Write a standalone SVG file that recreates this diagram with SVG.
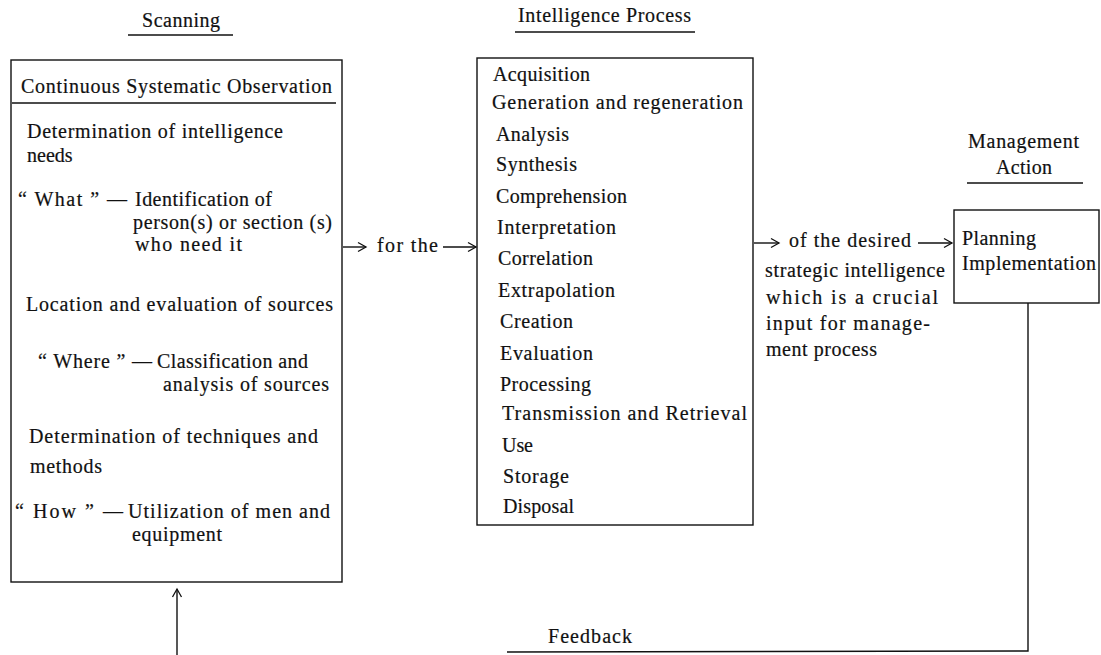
<svg xmlns="http://www.w3.org/2000/svg" width="1101" height="655" viewBox="0 0 1101 655">
<style>
text{font-family:"Liberation Serif","Times New Roman",serif;font-size:20px;fill:#111;stroke:#111;stroke-width:0.2}
.ln{stroke:#111;stroke-width:1.4;fill:none}
.box{stroke:#111;stroke-width:1.4;fill:none}
</style>
<defs>
<marker id="ah" markerUnits="userSpaceOnUse" markerWidth="12" markerHeight="12" refX="10" refY="6" orient="auto">
<path d="M2,1.5 L10,6 L2,10.5" fill="none" stroke="#111" stroke-width="1.3"/>
</marker>
</defs>
<rect width="1101" height="655" fill="#fff"/>

<g id="title-scanning">
<text x="142" y="27" textLength="78" lengthAdjust="spacing">Scanning</text>
<line class="ln" x1="128" y1="35" x2="233" y2="35"/>
</g>
<g id="title-intelligence">
<text x="518" y="22" textLength="173" lengthAdjust="spacing">Intelligence Process</text>
<line class="ln" x1="515" y1="32" x2="695" y2="32"/>
</g>
<g id="title-management">
<text x="968" y="148" textLength="111" lengthAdjust="spacing">Management</text>
<text x="996" y="174" textLength="56" lengthAdjust="spacing">Action</text>
<line class="ln" x1="967" y1="183" x2="1083" y2="183"/>
</g>

<g id="scanning-box">
<rect class="box" x="11" y="60" width="331" height="522"/>
<line class="ln" x1="12" y1="103" x2="336" y2="103"/>
<text x="21" y="93" textLength="311" lengthAdjust="spacing">Continuous Systematic Observation</text>
<text x="27" y="138" textLength="256" lengthAdjust="spacing">Determination of intelligence</text>
<text x="27" y="162">needs</text>
<text x="18" y="206" textLength="109" lengthAdjust="spacing">“ What ” —</text>
<text x="135" y="206" textLength="137" lengthAdjust="spacing">Identification of</text>
<text x="133" y="229" textLength="199" lengthAdjust="spacing">person(s) or section (s)</text>
<text x="135" y="251" textLength="107" lengthAdjust="spacing">who need it</text>
<text x="26" y="311" textLength="307" lengthAdjust="spacing">Location and evaluation of sources</text>
<text x="38" y="368" textLength="114" lengthAdjust="spacing">“ Where ” —</text>
<text x="157" y="368" textLength="151" lengthAdjust="spacing">Classification and</text>
<text x="163" y="391" textLength="166" lengthAdjust="spacing">analysis of sources</text>
<text x="29" y="443" textLength="289" lengthAdjust="spacing">Determination of techniques and</text>
<text x="30" y="473" textLength="72" lengthAdjust="spacing">methods</text>
<text x="15" y="518" textLength="108" lengthAdjust="spacing">“ How ” —</text>
<text x="128" y="518" textLength="202" lengthAdjust="spacing">Utilization of men and</text>
<text x="132" y="541" textLength="90" lengthAdjust="spacing">equipment</text>
</g>

<g id="intelligence-box">
<rect class="box" x="477" y="58" width="276" height="467"/>
<text x="493" y="81" textLength="97" lengthAdjust="spacing">Acquisition</text>
<text x="492" y="109" textLength="251" lengthAdjust="spacing">Generation and regeneration</text>
<text x="496" y="141" textLength="73" lengthAdjust="spacing">Analysis</text>
<text x="496" y="171" textLength="81" lengthAdjust="spacing">Synthesis</text>
<text x="496" y="203" textLength="131" lengthAdjust="spacing">Comprehension</text>
<text x="497" y="234" textLength="119" lengthAdjust="spacing">Interpretation</text>
<text x="498" y="265" textLength="95" lengthAdjust="spacing">Correlation</text>
<text x="498" y="297" textLength="117" lengthAdjust="spacing">Extrapolation</text>
<text x="500" y="328" textLength="73" lengthAdjust="spacing">Creation</text>
<text x="500" y="360" textLength="93" lengthAdjust="spacing">Evaluation</text>
<text x="500" y="391" textLength="91" lengthAdjust="spacing">Processing</text>
<text x="502" y="420" textLength="245" lengthAdjust="spacing">Transmission and Retrieval</text>
<text x="502" y="452" textLength="31" lengthAdjust="spacing">Use</text>
<text x="503" y="483" textLength="66" lengthAdjust="spacing">Storage</text>
<text x="503" y="513" textLength="71" lengthAdjust="spacing">Disposal</text>
</g>

<g id="management-box">
<rect class="box" x="954" y="210" width="145" height="93"/>
<text x="962" y="245" textLength="74" lengthAdjust="spacing">Planning</text>
<text x="962" y="270" textLength="134" lengthAdjust="spacing">Implementation</text>
</g>

<g id="connectors">
<line class="ln" x1="343" y1="247" x2="366" y2="247" marker-end="url(#ah)"/>
<text x="377" y="252" textLength="61" lengthAdjust="spacing">for the</text>
<line class="ln" x1="443" y1="247" x2="476" y2="247" marker-end="url(#ah)"/>
<line class="ln" x1="754" y1="243" x2="779" y2="243" marker-end="url(#ah)"/>
<text x="789" y="247" textLength="122" lengthAdjust="spacing">of the desired</text>
<line class="ln" x1="918" y1="243" x2="952" y2="243" marker-end="url(#ah)"/>
<text x="765" y="277" textLength="180" lengthAdjust="spacing">strategic intelligence</text>
<text x="766" y="304" textLength="172" lengthAdjust="spacing">which is a crucial</text>
<text x="766" y="330" textLength="164" lengthAdjust="spacing">input for manage-</text>
<text x="766" y="356" textLength="111" lengthAdjust="spacing">ment process</text>
<polyline class="ln" points="1028,303 1028,651 507,652"/>
<text x="548" y="643" textLength="84" lengthAdjust="spacing">Feedback</text>
<line class="ln" x1="177" y1="655" x2="177" y2="589" marker-end="url(#ah)"/>
</g>
</svg>
